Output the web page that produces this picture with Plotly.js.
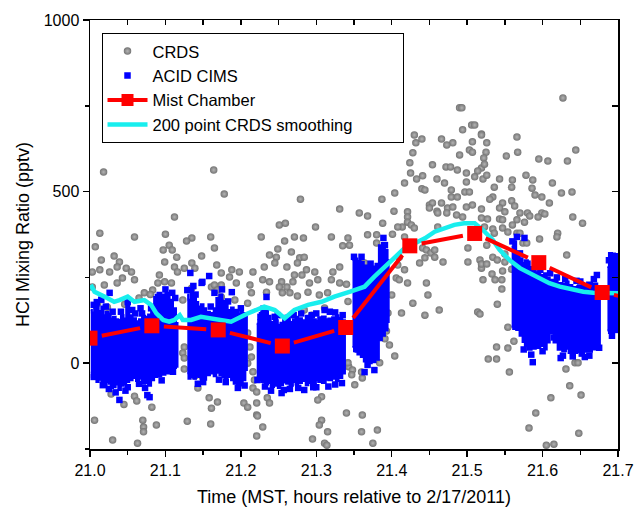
<!DOCTYPE html>
<html><head><meta charset="utf-8">
<script src="https://cdn.plot.ly/plotly-3.0.1.min.js"></script>
<style>html,body{margin:0;padding:0;background:#fff}#chart{width:637px;height:511px}</style>
</head><body><div id="chart"></div>
<script>
// ---- CRDS (gray points) ----
const crdsT = [21.018,21.164,21.112,21.013,21.059,21.100,21.135,21.128,21.160,21.007,21.105,21.109,21.097,21.148,21.032,21.015,21.039,21.115,21.099,21.112,21.135,21.168,21.036,21.048,21.013,21.026,21.055,21.116,21.125,21.139,21.092,21.003,21.043,21.059,21.099,21.108,21.090,21.083,21.036,21.019,21.003,21.072,21.135,21.123,21.161,
21.125,21.123,21.125,21.135,21.125,21.139,21.149,21.143,21.158,21.059,21.062,21.082,21.161,21.006,21.070,21.071,21.071,21.088,21.129,21.160,21.030,21.063,21.169,
21.010,21.023,21.046,21.065,21.080,21.028,21.045,
21.178,21.279,21.331,21.251,21.259,21.299,21.227,21.258,21.271,21.283,21.320,21.342,21.165,21.249,21.335,21.238,21.247,21.267,21.278,21.284,21.245,21.275,21.231,21.261,21.331,21.188,21.198,21.216,21.287,21.298,21.322,21.174,21.185,21.271,21.281,21.302,21.320,21.229,21.238,21.254,21.269,21.194,21.212,21.291,21.331,21.174,21.165,21.251,21.261,21.169,21.214,21.234,21.255,21.265,21.289,21.315,21.275,21.304,21.174,21.209,21.192,21.284,21.311,21.294,
21.218,21.216,21.221,21.307,21.302,21.235,21.238,21.204,21.209,21.221,21.221,21.222,21.340,21.307,21.304,21.229,21.315,21.221,21.295,21.311,21.314,
21.209,21.212,21.214,21.209,21.216,21.340,21.342,21.343,
21.490,21.493,21.506,21.510,21.430,21.494,21.519,21.466,21.440,21.432,21.481,21.507,21.473,21.490,21.503,21.428,21.507,21.424,21.454,21.472,21.478,21.487,21.519,21.514,21.425,21.499,21.441,21.510,21.433,21.460,21.499,21.417,21.470,21.521,21.440,21.444,21.479,21.497,21.503,21.404,21.387,21.479,21.487,21.450,21.454,21.466,21.474,21.481,21.499,21.507,21.450,21.460,21.461,21.473,21.486,21.494,21.421,21.421,21.403,21.357,21.368,21.421,21.426,21.430,21.414,21.408,21.388,21.368,21.380,21.401,21.417,21.461,21.344,21.380,21.364,21.410,21.441,21.446,21.452,21.457,21.501,21.444,21.457,21.468,21.437,21.408,21.501,21.517,21.519,21.417,21.375,21.406,21.410,21.400,21.421,21.446,21.448,21.428,21.413,21.444,21.463,21.395,21.514,
21.397,21.404,21.393,21.391,21.384,21.342,21.348,21.360,21.347,21.361,21.351,21.361,21.381,21.360,21.375,
21.627,21.566,21.519,21.526,21.644,21.567,21.525,21.552,21.522,21.595,21.607,21.633,21.523,21.526,21.578,21.560,21.543,21.587,21.613,21.559,21.536,21.586,21.625,21.639,21.590,21.599,21.534,21.530,21.547,21.559,21.609,21.563,21.543,21.519,21.550,21.570,21.580,21.583,21.599,21.603,21.594,21.519,21.527,21.543,21.547,21.566,21.576,21.640,21.653,21.560,21.534,21.523,21.547,21.536,21.554,21.566,21.570,21.620,21.619,21.574,21.579,21.526,21.632,21.550,21.534,21.519,21.526,21.540,21.550,21.559,21.547,21.533,21.521,21.537,21.546,21.546,21.540,21.517,21.554,21.562,21.539,21.554,21.528,21.539,21.556,21.636,21.651,21.611,21.591,21.582,21.648,21.605,21.615,21.643,21.647,21.631,21.596];
const crdsV = [557,563,426,379,368,376,365,356,368,339,344,330,330,312,312,301,295,309,295,280,292,286,280,277,272,266,266,266,277,277,257,266,248,243,237,234,234,213,234,228,222,205,219,184,222,
47,30,15,30,-17,-37,-40,-72,-101,-96,-110,-128,-131,-166,-166,-186,-200,-180,-169,-177,-224,-233,-113,
175,163,172,190,200,-90,-120,
493,478,449,403,408,397,368,356,368,365,368,365,336,333,342,315,309,324,307,309,292,292,280,280,280,272,266,266,272,266,266,263,251,257,257,243,243,243,237,237,237,234,228,234,234,228,228,222,222,213,205,207,205,205,207,205,196,199,193,175,184,155,161,140,
-49,-72,-84,-98,-107,-101,-116,-116,-128,-116,-151,-154,-145,-166,-180,-186,-200,-212,-221,-233,-239,
88,47,18,0,-25,230,180,-10,
744,744,694,694,665,680,668,653,653,642,642,645,636,607,621,613,615,584,578,572,572,563,569,560,554,554,546,543,537,537,528,525,525,537,508,505,505,499,499,496,478,484,484,461,467,467,452,455,455,461,452,443,438,438,432,426,441,426,443,438,429,411,403,394,397,397,408,374,374,376,368,397,344,350,292,309,336,330,321,330,336,307,309,295,292,286,295,301,277,272,237,248,243,199,234,234,199,175,146,140,155,146,149,
53,21,94,71,1,1,-20,-26,-34,-43,-63,-151,-195,-200,-233,
773,659,665,642,621,615,615,604,598,595,589,589,580,548,548,534,537,534,525,513,513,510,496,499,490,484,484,478,467,473,467,458,452,449,441,438,438,429,438,435,426,423,420,420,418,418,411,426,408,403,391,397,394,379,382,379,379,379,368,350,350,344,315,318,309,289,289,301,295,274,269,260,243,243,243,216,172,143,105,64,47,44,12,12,-26,-66,-93,-101,-145,-189,-204,-239,-236,1,1,-17,362];

// ---- ACID CIMS (blue): dense-region envelopes per burst + scattered edge points ----
const cimsA_T = [21.001,21.004,21.007,21.010,21.013,21.017,21.019,21.023,21.026,21.029,21.032,21.036,21.039,21.043,21.046,21.050,21.054,21.059,21.063,21.067,21.071,21.075,21.079,21.083,21.087,21.092,21.097,21.103,21.108,21.112,21.116];
const cimsA_Hi = [155,148,160,170,152,165,140,150,145,130,135,128,126,140,130,184,140,131,122,128,138,135,142,150,193,205,200,205,185,160,117];
const cimsA_Lo = [-28,-40,-35,-55,-48,-60,-64,-55,-60,-72,-70,-62,-78,-66,-62,-55,-50,-43,-52,-45,-60,-58,-66,-50,-40,-38,-34,-30,-20,-14,-10];
const cimsB_T = [21.129,21.132,21.135,21.139,21.142,21.145,21.149,21.152,21.156,21.162,21.166,21.169,21.174,21.177,21.180,21.185,21.189,21.192,21.198,21.201,21.204,21.208];
const cimsB_Hi = [200,185,215,190,178,165,172,160,150,146,160,190,200,182,170,155,162,150,145,152,146,140];
const cimsB_Lo = [-30,-45,-40,-45,-38,-40,-52,-48,-35,-30,-38,-28,-35,-42,-45,-40,-50,-60,-65,-55,-50,-20];
const cimsC_T = [21.221,21.225,21.229,21.234,21.238,21.241,21.247,21.251,21.254,21.258,21.262,21.267,21.271,21.274,21.278,21.284,21.288,21.291,21.298,21.301,21.304,21.311,21.314,21.318,21.324,21.328,21.331,21.338];
const cimsC_Hi = [115,125,165,160,138,120,125,112,118,130,126,120,128,135,131,125,138,132,128,124,134,136,128,130,134,140,132,125];
const cimsC_Lo = [-40,-49,-55,-62,-58,-69,-66,-72,-64,-56,-60,-66,-55,-62,-58,-52,-64,-58,-60,-50,-55,-58,-48,-50,-45,-52,-43,-30];
const cimsD_T = [21.348,21.352,21.357,21.361,21.365,21.371,21.376,21.381,21.385,21.389,21.393,21.396];
const cimsD_Hi = [301,305,298,295,285,280,282,290,344,350,330,300];
const cimsD_Lo = [47,35,25,18,5,0,3,10,67,80,95,120];
const cimsE_T = [21.559,21.563,21.567,21.572,21.575,21.578,21.583,21.588,21.594,21.600,21.604,21.607,21.612,21.617,21.623,21.629,21.633,21.636,21.643,21.649,21.656,21.662,21.669,21.676];
const cimsE_Hi = [340,355,310,306,292,300,280,272,265,257,262,250,243,240,234,232,238,228,222,225,228,235,232,225];
const cimsE_Lo = [106,100,97,80,62,50,39,42,44,50,40,60,88,60,39,35,42,30,30,32,33,33,40,47];
const cimsF_T = [21.686,21.690,21.694,21.698,21.702];
const cimsF_Hi = [280,321,320,318,315];
const cimsF_Lo = [95,88,92,97,95];
const cimsPtT = [21.026,21.050,21.067,21.109,21.090,21.019,21.039,21.079,21.076,21.017,21.103,21.013,21.133,21.149,21.129,21.165,21.158,21.148,21.188,21.194,21.198,21.234,21.311,21.254,21.284,21.222,21.391,21.389,21.364,21.377,21.566,21.576,21.587,21.624,21.656,21.672,21.696,
21.005,21.015,21.030,21.060,21.085,21.100,21.113,21.005,21.025,21.050,21.065,21.095,21.110,21.140,21.175,21.200,21.150,21.180,21.205,21.228,21.245,21.270,21.300,21.325,21.335,21.240,21.265,21.300,21.325,21.350,21.360,21.372,21.355,21.368,21.560,21.570,21.590,21.610,21.630,21.650,21.668,21.575,21.600,21.615,21.640,21.662,21.675,21.688,21.692,
21.009,21.021,21.041,21.056,21.069,21.081,21.034,21.047,21.073,21.137,21.160,21.183,21.143,21.171,21.196,21.226,21.249,21.262,21.280,21.294,21.318,21.232,21.257,21.276,21.296,21.316,21.334,21.580,21.597,21.619,21.645,21.585,21.627,21.652];
const cimsPtV = [205,178,160,205,193,-58,-107,-99,-93,-64,-11,-20,263,237,213,205,254,234,207,149,-58,193,155,-87,-78,-49,344,365,-26,-20,368,365,3,15,18,257,97,
170,185,150,145,160,215,190,-40,-75,-70,-60,-50,-25,200,215,160,-55,-55,-65,140,135,140,145,148,140,-80,-75,-70,-62,310,310,290,40,-5,355,320,285,262,245,238,245,40,35,75,20,22,45,300,80,
178,165,150,155,145,160,-85,-80,-72,225,165,180,-60,-48,-72,135,140,132,145,140,150,-68,-78,-72,-70,-68,-58,290,272,250,240,25,22,28];

// ---- Mist Chamber ----
const mistT = [21.000,21.082,21.170,21.255,21.339,21.424,21.510,21.595,21.679,21.760];
const mistV = [73,109,97,50,104,342,378,293,206,170];

// ---- 200 point CRDS smoothing ----
const smoothT = [21.001,21.006,21.019,21.032,21.039,21.050,21.059,21.072,21.081,21.088,21.097,21.105,21.112,21.119,21.123,21.134,21.147,21.161,21.172,21.187,21.209,21.231,21.245,21.258,21.271,21.289,21.307,21.324,21.344,21.355,21.364,21.377,21.391,21.404,21.417,21.430,21.444,21.457,21.470,21.483,21.496,21.510,21.521,21.534,21.543,21.556,21.570,21.583,21.596,21.609,21.623,21.640,21.654,21.667,21.701];
const smoothV = [228,208,194,179,184,194,179,184,170,145,126,121,126,140,126,126,135,131,126,121,145,165,155,131,155,170,179,194,208,218,223,252,281,310,335,349,364,383,393,403,408,408,388,359,330,301,277,262,247,233,223,213,208,205,204];

const FONT = 'Arial, "Liberation Sans", sans-serif';
const X0 = 21.0, X1 = 21.7, Y0 = -250, Y1 = 1000;
const M = {l: 90, r: 19, t: 20, b: 62};
const plotW = 637 - M.l - M.r, plotH = 511 - M.t - M.b;

// mist line segments shortened so they stop short of the markers (data-space, via axis scale)
const gapPx = 12, sx = plotW / (X1 - X0), sy = plotH / (Y1 - Y0);
const segX = [], segY = [];
for (let i = 0; i < mistT.length - 1; i++) {
  const dx = (mistT[i+1] - mistT[i]) * sx, dy = (mistV[i+1] - mistV[i]) * sy;
  const L = Math.hypot(dx, dy);
  if (L <= 2 * gapPx) continue;
  const f = gapPx / L;
  segX.push(mistT[i] + (mistT[i+1] - mistT[i]) * f, mistT[i+1] - (mistT[i+1] - mistT[i]) * f, null);
  segY.push(mistV[i] + (mistV[i+1] - mistV[i]) * f, mistV[i+1] - (mistV[i+1] - mistV[i]) * f, null);
}

function envelope(t, hi, lo) {
  return {
    x: t.concat(t.slice().reverse()), y: hi.concat(lo.slice().reverse()),
    type: 'scatter', mode: 'lines', fill: 'toself', fillcolor: '#0000ff',
    line: {color: '#0000ff', width: 2, shape: 'hvh'}, showlegend: false, hoverinfo: 'skip'
  };
}

const BLUE = '#0000ff', RED = '#ff0000', CYAN = '#18eeee';
const traces = [
  {x: crdsT, y: crdsV, type: 'scatter', mode: 'markers', name: 'CRDS', legendrank: 1,
   marker: {symbol: 'circle', size: 7.5, color: '#747474', gradient: {type: 'radial', color: '#b4b4b4'}, line: {width: 0}}},
  envelope(cimsA_T, cimsA_Hi, cimsA_Lo),
  envelope(cimsB_T, cimsB_Hi, cimsB_Lo),
  envelope(cimsC_T, cimsC_Hi, cimsC_Lo),
  envelope(cimsD_T, cimsD_Hi, cimsD_Lo),
  envelope(cimsE_T, cimsE_Hi, cimsE_Lo),
  envelope(cimsF_T, cimsF_Hi, cimsF_Lo),
  {x: cimsPtT, y: cimsPtV, type: 'scatter', mode: 'markers', name: 'ACID CIMS', legendrank: 2,
   marker: {symbol: 'square', size: 6.5, color: BLUE, line: {width: 0}}},
  {x: smoothT, y: smoothV, type: 'scatter', mode: 'lines', name: '200 point CRDS smoothing', legendrank: 4,
   line: {color: CYAN, width: 4.5}},
  {x: segX, y: segY, type: 'scatter', mode: 'lines', showlegend: false, hoverinfo: 'skip',
   line: {color: RED, width: 4}},
  {x: mistT, y: mistV, type: 'scatter', mode: 'markers', showlegend: false,
   marker: {symbol: 'square', size: 15, color: RED, line: {width: 0}}},
  {x: [null], y: [null], type: 'scatter', mode: 'lines+markers', name: 'Mist Chamber', legendrank: 3,
   line: {color: RED, width: 4}, marker: {symbol: 'square', size: 12, color: RED}},
  {x: [null], y: [null], type: 'scatter', mode: 'markers', xaxis: 'x2', yaxis: 'y2', showlegend: false, hoverinfo: 'skip'}
];

const axBase = {showgrid: false, zeroline: false, showline: true, linecolor: '#000', linewidth: 1.5,
  tickcolor: '#000', tickwidth: 1.5, tickfont: {family: FONT, size: 16, color: '#000'}};

const layout = {
  width: 637, height: 511, margin: M,
  paper_bgcolor: '#fff', plot_bgcolor: '#fff',
  font: {family: FONT, color: '#000'},
  showlegend: true,
  legend: {x: 0.0218, y: 0.97, xanchor: 'left', yanchor: 'top', bgcolor: '#fff',
    orientation: 'h', entrywidth: 245, entrywidthmode: 'pixels', traceorder: 'normal',
    bordercolor: '#000', borderwidth: 1, font: {family: FONT, size: 16.5, color: '#000'},
    itemwidth: 40, tracegroupgap: 0},
  xaxis: Object.assign({}, axBase, {range: [X0, X1], autorange: false, tick0: 21, dtick: 0.1, tickformat: '.1f',
    ticks: 'outside', ticklen: 6,
    minor: {dtick: 0.05, ticks: 'outside', ticklen: 4, tickwidth: 1.5, tickcolor: '#000', showgrid: false},
    title: {text: 'Time (MST, hours relative to 2/17/2011)', font: {family: FONT, size: 18, color: '#000'}, standoff: 12}}),
  yaxis: Object.assign({}, axBase, {range: [Y0, Y1], autorange: false, tick0: 0, dtick: 500,
    ticks: 'outside', ticklen: 6,
    minor: {dtick: 250, ticks: 'outside', ticklen: 4, tickwidth: 1.5, tickcolor: '#000', showgrid: false},
    title: {text: 'HCl Mixing Ratio (pptv)', font: {family: FONT, size: 18, color: '#000'}, standoff: 9}}),
  xaxis2: Object.assign({}, axBase, {overlaying: 'x', side: 'top', anchor: 'y', range: [X0, X1], autorange: false,
    tick0: 21, dtick: 0.05, ticks: 'inside', ticklen: 5, showticklabels: false}),
  yaxis2: Object.assign({}, axBase, {overlaying: 'y', side: 'right', anchor: 'x', range: [Y0, Y1], autorange: false,
    tick0: 0, dtick: 250, ticks: 'inside', ticklen: 6, showticklabels: false})
};

Plotly.newPlot('chart', traces, layout, {staticPlot: true, displayModeBar: false});
</script>
</body></html>
